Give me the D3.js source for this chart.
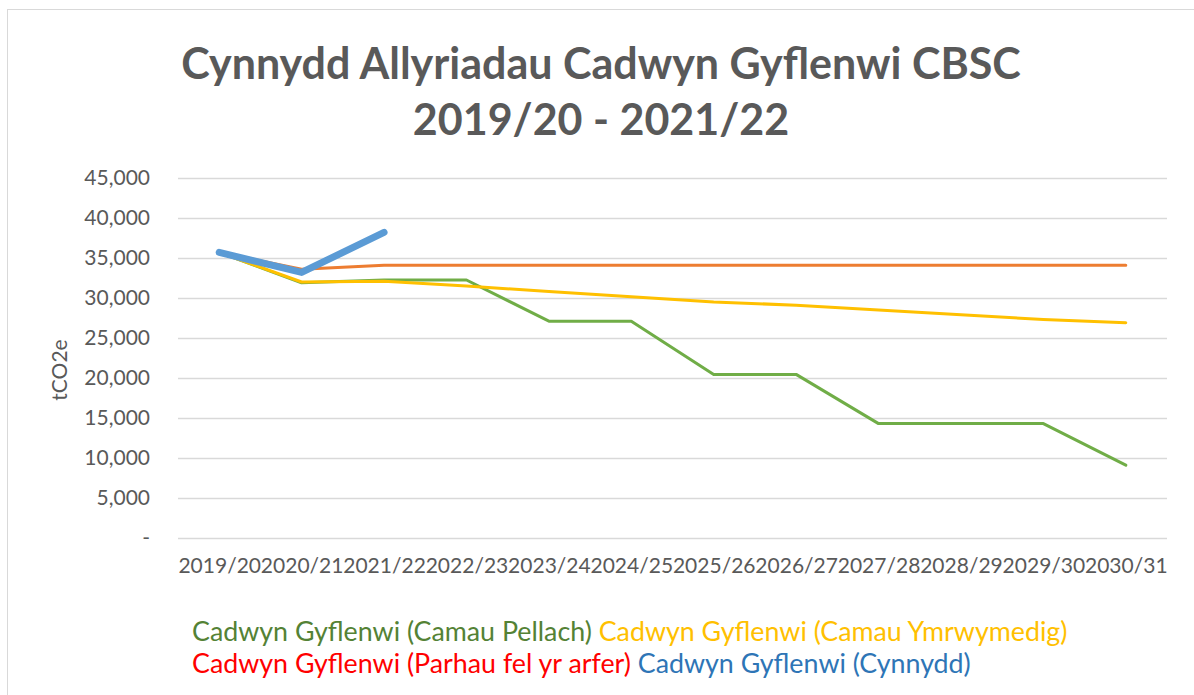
<!DOCTYPE html>
<html>
<head>
<meta charset="utf-8">
<script src="https://cdn.jsdelivr.net/npm/d3@7"></script>
<style>
  html, body { margin: 0; padding: 0; background: #fff; }
  svg { display: block; font-family: Lato, "Open Sans", sans-serif; }
</style>
</head>
<body>
<svg id="chart" width="1194" height="695"></svg>
<script>
// Financial years on the x axis
const years = ["2019/20", "2020/21", "2021/22", "2022/23", "2023/24", "2024/25",
               "2025/26", "2026/27", "2027/28", "2028/29", "2029/30", "2030/31"];

// Supply-chain emissions (tCO2e) per scenario
const camauPellach    = [35700, 31900, 32250, 32250, 27100, 27100, 20450, 20450, 14300, 14300, 14300, 9100];
const camauYmrwymedig = [35700, 32000, 32100, 31500, 30800, 30150, 29500, 29100, 28500, 27900, 27300, 26900];
const parhauFelArfer  = [35700, 33600, 34100, 34100, 34100, 34100, 34100, 34100, 34100, 34100, 34100, 34100];
const cynnydd         = [35700, 33200, 38200];

const yTicks = [0, 5000, 10000, 15000, 20000, 25000, 30000, 35000, 40000, 45000];

const series = [
  { name: "Cadwyn Gyflenwi (Camau Pellach)",       values: camauPellach,    stroke: "#70AD47", width: 3, text: "#548235" },
  { name: "Cadwyn Gyflenwi (Camau Ymrwymedig)",    values: camauYmrwymedig, stroke: "#FFC000", width: 3, text: "#FFC000" },
  { name: "Cadwyn Gyflenwi (Parhau fel yr arfer)", values: parhauFelArfer,  stroke: "#ED7D31", width: 3, text: "#FF0000" },
  { name: "Cadwyn Gyflenwi (Cynnydd)",             values: cynnydd,         stroke: "#5B9BD5", width: 7, text: "#2E75B6" }
];

const svg = d3.select("#chart");

// Chart area frame
svg.append("rect")
  .attr("x", 7.5).attr("y", 9.5)
  .attr("width", 1300).attr("height", 800)
  .attr("fill", "#fff").attr("stroke", "#d9d9d9");

const x = d3.scalePoint().domain(years).range([178, 1167]).padding(0.5);
const y = d3.scaleLinear().domain([0, 45000]).range([538, 178]);

// Title
const title = svg.append("text")
  .attr("text-anchor", "middle")
  .attr("fill", "#595959")
  .attr("font-weight", "bold")
  .attr("font-size", 43);
title.append("tspan").attr("x", 601).attr("y", 79).text("Cynnydd Allyriadau Cadwyn Gyflenwi CBSC");
title.append("tspan").attr("x", 601).attr("y", 135).text("2019/20 - 2021/22");

// Horizontal gridlines
svg.append("g")
  .selectAll("line")
  .data(yTicks)
  .join("line")
  .attr("x1", 178).attr("x2", 1167)
  .attr("y1", d => y(d) + 0.5).attr("y2", d => y(d) + 0.5)
  .attr("stroke", "#d9d9d9").attr("stroke-width", 1.3);

// Y axis labels
const fmt = d3.format(",");
const yAxis = svg.append("g")
  .attr("transform", "translate(150,0)")
  .call(d3.axisLeft(y).tickValues(yTicks).tickSize(0).tickPadding(0)
          .tickFormat(d => d === 0 ? "-" : fmt(d)));
yAxis.select(".domain").remove();
yAxis.selectAll("text")
  .attr("fill", "#595959")
  .attr("font-size", 21)
  .attr("font-family", "Lato, sans-serif");

// X axis labels
const xAxis = svg.append("g")
  .attr("transform", "translate(0,558)")
  .call(d3.axisBottom(x).tickSize(0).tickPadding(0));
xAxis.select(".domain").remove();
xAxis.selectAll("text")
  .attr("fill", "#595959")
  .attr("font-size", 21)
  .attr("font-family", "Lato, sans-serif");

// Y axis title
svg.append("text")
  .attr("transform", "translate(67,370) rotate(-90)")
  .attr("text-anchor", "middle")
  .attr("fill", "#595959")
  .attr("font-size", 21)
  .text("tCO2e");

// Lines
const line = d3.line()
  .x((d, i) => x(years[i]))
  .y(d => y(d));

svg.append("g")
  .selectAll("path")
  .data(series)
  .join("path")
  .attr("d", d => line(d.values))
  .attr("fill", "none")
  .attr("stroke", d => d.stroke)
  .attr("stroke-width", d => d.width)
  .attr("stroke-linejoin", "round")
  .attr("stroke-linecap", "round");

// Legend (two rows of coloured text)
const legendRows = [[series[0], series[1]], [series[2], series[3]]];
legendRows.forEach((row, r) => {
  const t = svg.append("text")
    .attr("x", 192)
    .attr("y", 641 + r * 32)
    .attr("font-size", 26.8);
  row.forEach((s, i) => {
    t.append("tspan")
      .attr("fill", s.text)
      .text((i > 0 ? " " : "") + s.name);
  });
});
</script>
</body>
</html>
